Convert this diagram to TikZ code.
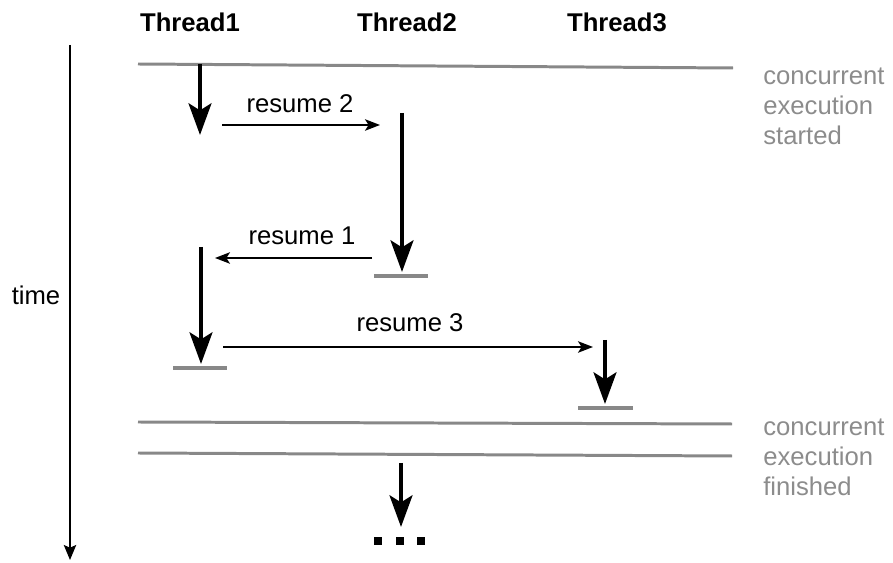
\documentclass[tikz,border=0pt]{standalone}
\usepackage{fontspec}
\setmainfont{Liberation Sans}
\usetikzlibrary{arrows.meta}
\definecolor{guidegray}{RGB}{136,136,136}
\definecolor{notegray}{RGB}{140,140,140}

\begin{document}
\begin{tikzpicture}[x=0.02cm,y=-0.02cm,
    every node/.style={inner sep=0pt,font=\fontsize{14.6}{17}\selectfont},
    header/.style={anchor=base,font=\fontsize{14.6}{17}\selectfont\bfseries},
    msg/.style={anchor=base},
    note/.style={anchor=west,align=left,text=notegray},
    runarrow/.style={line width=2.3pt,-{Stealth[length=18pt,width=13pt,inset=4pt]}},
    resumearrow/.style={line width=1.1pt,-{Stealth[length=8.5pt,width=6.5pt,inset=2pt]}},
    guideline/.style={guidegray,line width=1.7pt},
    parkbar/.style={guidegray,line width=2.8pt}]
    \useasboundingbox (0,0) rectangle (893,563);

    \node[header] (t1) at (190,32) {Thread1};
    \node[header] (t2) at (407,32) {Thread2};
    \node[header] (t3) at (617,32) {Thread3};
    \node (time) at (36,295) {time};
    \node[note] (startnote) at (763,106) {concurrent\\execution\\started};
    \node[note] (endnote) at (763,457) {concurrent\\execution\\finished};
    \node[msg] (r2) at (300,113) {resume 2};
    \node[msg] (r1) at (302,245) {resume 1};
    \node[msg] (r3) at (410,332) {resume 3};

    \coordinate (axtop) at (70,45);
    \coordinate (axbot) at (70,560);
    \coordinate (t1a) at (200,64);
    \coordinate (t1b) at (200,135);
    \coordinate (t1c) at (201,247);
    \coordinate (t1d) at (201,364);
    \coordinate (t2a) at (402,113);
    \coordinate (t2b) at (402,272);
    \coordinate (t3a) at (605,340);
    \coordinate (t3b) at (605,404);
    \coordinate (moretop) at (401,463);
    \coordinate (morebot) at (401,527);
    \coordinate (r2a) at (222,125);
    \coordinate (r2b) at (380,125);
    \coordinate (r1a) at (372,258);
    \coordinate (r1b) at (215,258);
    \coordinate (r3a) at (223,347);
    \coordinate (r3b) at (593,347);

    \draw[line width=1.1pt,-{Stealth[length=8.5pt,width=7pt,inset=1.5pt]}] (axtop) -- (axbot);

    \draw[guideline] (138,64) -- (733,68);
    \draw[guideline] (138,422) -- (732,424);
    \draw[guideline] (138,453) -- (732,456);

    \draw[runarrow] (t1a) -- (t1b);
    \draw[resumearrow] (r2a) -- (r2b);
    \draw[runarrow] (t2a) -- (t2b);
    \draw[parkbar] (374,276) -- (428,276);
    \draw[resumearrow] (r1a) -- (r1b);
    \draw[runarrow] (t1c) -- (t1d);
    \draw[parkbar] (173,368) -- (227,368);
    \draw[resumearrow] (r3a) -- (r3b);
    \draw[runarrow] (t3a) -- (t3b);
    \draw[parkbar] (578,408) -- (633,408);
    \draw[runarrow] (moretop) -- (morebot);
    \foreach \dx in {378,400,421}
      \fill (\dx-4,537) rectangle (\dx+4,545);
  \end{tikzpicture}
\end{document}
